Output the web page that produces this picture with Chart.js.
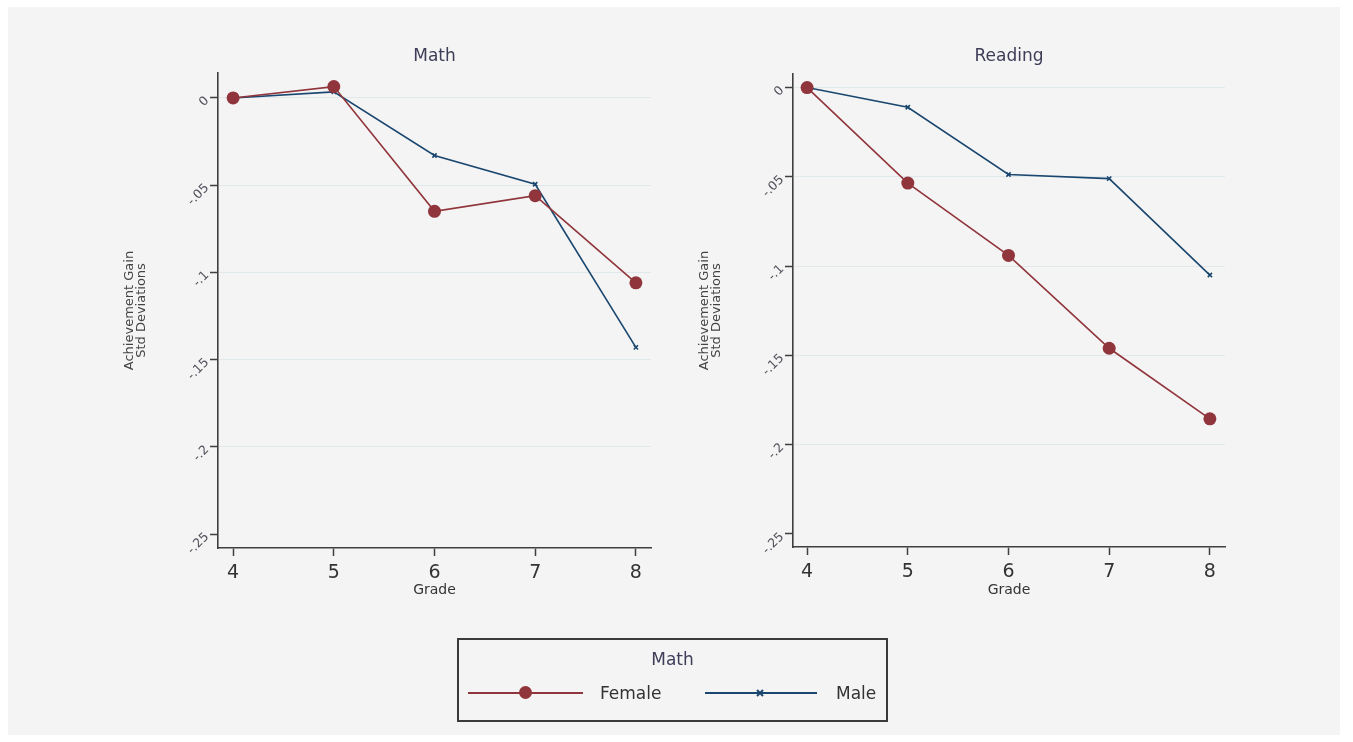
<!DOCTYPE html>
<html>
<head>
<meta charset="utf-8">
<script src="https://cdn.jsdelivr.net/npm/chart.js@4.4.1/dist/chart.umd.min.js"></script>
<style>
html,body{margin:0;padding:0;background:#ffffff;}
#wrap{position:relative;width:1353px;height:742px;overflow:hidden;background:#ffffff;}
#bg{position:absolute;left:8px;top:7px;width:1332px;height:728px;background:#f4f4f4;}
canvas{position:absolute;left:0;top:0;}
#legend{position:absolute;left:457px;top:638px;width:431px;height:84px;box-sizing:border-box;border:2px solid #3a3a3a;font-family:"DejaVu Sans",sans-serif;}
#legend .title{position:absolute;left:0;top:9px;width:100%;text-align:center;font-size:17px;line-height:20px;color:#3d3d58;}
#legend .line{position:absolute;height:2px;top:52px;}
#legend .txt{position:absolute;top:43px;font-size:17px;line-height:20px;color:#333333;}
#legend .dot{position:absolute;width:13px;height:13px;border-radius:50%;left:60px;top:46px;}
#legend svg{position:absolute;left:297px;top:49px;}
</style>
</head>
<body>
<div id="wrap">
  <div id="bg"></div>
  <canvas id="c1" width="1353" height="742"></canvas>
  <canvas id="c2" width="1353" height="742"></canvas>
  <div id="legend">
    <div class="title">Math</div>
    <div class="line" style="left:9px;width:115px;background:#90353b;"></div>
    <div class="dot" style="background:#90353b;"></div>
    <div class="txt" style="left:141px;">Female</div>
    <div class="line" style="left:246px;width:112px;background:#1a476f;"></div>
    <svg width="8" height="8" viewBox="0 0 8 8"><path d="M1 1 L7 7 M7 1 L1 7" stroke="#1a476f" stroke-width="2"/></svg>
    <div class="txt" style="left:377px;">Male</div>
  </div>
</div>
<script>
// ---- data ----
const grades = [4, 5, 6, 7, 8];
const yTickValues = [0, -0.05, -0.1, -0.15, -0.2, -0.25];
const panelTitles = ["Math", "Reading"];
const seriesNames = ["Female", "Male"];
const mathFemale = [0, 0.0065, -0.065, -0.056, -0.106];
const mathMale = [0, 0.0035, -0.033, -0.0495, -0.143];
const readFemale = [0, -0.0535, -0.094, -0.146, -0.1855];
const readMale = [0, -0.011, -0.0487, -0.051, -0.105];
const yTitleLines = ["Achievement Gain", "Std Deviations"];
const xTitle = "Grade";

// ---- styles ----
const FEMALE_COLOR = "#90353b";
const MALE_COLOR = "#1a476f";
const AXIS_COLOR = "#3f3f3f";
const GRID_COLOR = "#e1e8ec";
const FONT = '"DejaVu Sans", sans-serif';

function fmtTick(v) {
  if (v === 0) return "0";
  const s = String(Math.abs(v)).replace(/^0/, "");
  return (v < 0 ? "-" : "") + s;
}

const panelDecor = {
  id: "panelDecor",
  afterDraw(chart, args, opts) {
    const ctx = chart.ctx, ca = chart.chartArea, ys = chart.scales.y;
    ctx.save();
    // panel title
    ctx.fillStyle = "#3d3d58";
    ctx.font = "17px " + FONT;
    ctx.textAlign = "center";
    ctx.textBaseline = "middle";
    ctx.fillText(opts.title, (ca.left + ca.right) / 2, 57);
    // y tick labels (rotated)
    ctx.font = "12.5px " + FONT;
    ctx.fillStyle = "#50505c";
    ys.ticks.forEach(t => {
      const y = ys.getPixelForValue(t.value);
      ctx.save();
      ctx.translate(ca.left - 11, y + 1);
      ctx.rotate(-Math.PI / 4);
      ctx.textAlign = "right";
      ctx.textBaseline = "middle";
      ctx.fillText(fmtTick(t.value), 0, 0);
      ctx.restore();
    });
    // y axis title
    ctx.font = "13px " + FONT;
    ctx.fillStyle = "#444444";
    const cy = (ca.top + ca.bottom) / 2;
    yTitleLines.forEach((line, i) => {
      ctx.save();
      ctx.translate(ca.left - 88 + i * 11.5, cy);
      ctx.rotate(-Math.PI / 2);
      ctx.textAlign = "center";
      ctx.textBaseline = "middle";
      ctx.fillText(line, 0, 0);
      ctx.restore();
    });
    // x axis title
    ctx.font = "14px " + FONT;
    ctx.fillStyle = "#333333";
    ctx.textAlign = "center";
    ctx.textBaseline = "middle";
    ctx.fillText(xTitle, (ca.left + ca.right) / 2, 590);
    ctx.restore();
  }
};

function makeChart(id, title, female, male, pad, xr, yr) {
  return new Chart(document.getElementById(id), {
    type: "line",
    data: {
      datasets: [
        {
          label: seriesNames[0],
          data: grades.map((g, i) => ({ x: g, y: female[i] })),
          borderColor: FEMALE_COLOR,
          backgroundColor: FEMALE_COLOR,
          borderWidth: 1.6,
          pointStyle: "circle",
          pointRadius: 6.5,
          pointBorderWidth: 0,
          pointBackgroundColor: FEMALE_COLOR,
          tension: 0
        },
        {
          label: seriesNames[1],
          data: grades.map((g, i) => ({ x: g, y: male[i] })),
          borderColor: MALE_COLOR,
          backgroundColor: MALE_COLOR,
          borderWidth: 1.6,
          pointStyle: "crossRot",
          pointRadius: 3,
          pointBorderWidth: 1.6,
          pointBorderColor: MALE_COLOR,
          tension: 0
        }
      ]
    },
    options: {
      responsive: false,
      animation: false,
      devicePixelRatio: 1,
      clip: false,
      layout: { padding: pad },
      plugins: {
        legend: { display: false },
        tooltip: { enabled: false },
        title: { display: false },
        panelDecor: { title: title }
      },
      scales: {
        x: {
          type: "linear",
          min: xr[0], max: xr[1],
          afterBuildTicks: s => { s.ticks = grades.map(v => ({ value: v })); },
          afterFit: s => { s.height = 40; },
          grid: { drawOnChartArea: false, drawTicks: true, tickLength: 8, tickColor: AXIS_COLOR, tickWidth: 1.5 },
          border: { display: true, color: AXIS_COLOR, width: 1.6 },
          ticks: { color: "#333333", font: { family: FONT, size: 19 }, padding: 6, maxRotation: 0, autoSkip: false }
        },
        y: {
          type: "linear",
          min: yr[0], max: yr[1],
          afterBuildTicks: s => { s.ticks = yTickValues.map(v => ({ value: v })); },
          afterFit: s => { s.width = 10; },
          grid: {
            drawOnChartArea: true, drawTicks: true, tickLength: 8,
            tickColor: AXIS_COLOR, tickWidth: 1.5, lineWidth: 1,
            color: c => (c.tick && c.tick.value === Math.min(...yTickValues)) ? "rgba(0,0,0,0)" : GRID_COLOR
          },
          border: { display: true, color: AXIS_COLOR, width: 1.6 },
          ticks: { display: false }
        }
      }
    },
    plugins: [panelDecor]
  });
}

makeChart("c1", panelTitles[0], mathFemale, mathMale,
  { left: 208, right: 702, top: 73, bottom: 154 }, [3.85, 8.15], [-0.258, 0.0143]);
makeChart("c2", panelTitles[1], readFemale, readMale,
  { left: 783, right: 128, top: 74, bottom: 155 }, [3.86, 8.15], [-0.2573, 0.0076]);
</script>
</body>
</html>
